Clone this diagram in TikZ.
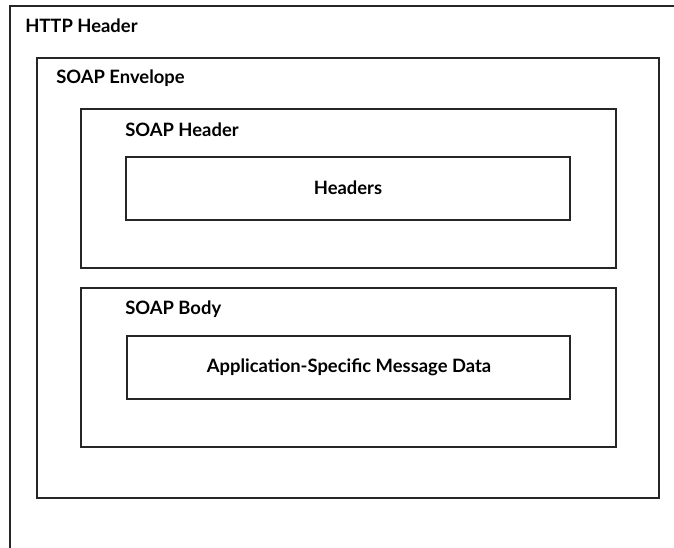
\documentclass[tikz,border=0pt]{standalone}
\usepackage{fontspec}
\setmainfont{Lato}
\usepackage{tikz}

\begin{document}
\begin{tikzpicture}[x=0.75pt,y=0.75pt,yscale=-1,xscale=1,
	lbl/.style={anchor=west,inner sep=0.75pt,font=\fontsize{13.8}{16}\selectfont\bfseries},
	ctr/.style={inner sep=0.75pt,font=\fontsize{13.8}{16}\selectfont\bfseries},
	frame/.style={line width=0.9pt,draw=black!85}]
	\useasboundingbox (0,0) rectangle (674,548);
	
	%Shape: Open frame (HTTP) [id:http]
	\draw [frame]   (10,548) -- (10,6) -- (674,6) ;
	%Shape: Rectangle (Envelope) [id:envelope]
	\draw [frame]   (37,58) rectangle (659,498) ;
	%Shape: Rectangle (SOAP Header) [id:soapheader]
	\draw [frame]   (81,109) rectangle (616,268) ;
	%Shape: Rectangle (Headers) [id:headers]
	\draw [frame]   (126,157) rectangle (570,220) ;
	%Shape: Rectangle (SOAP Body) [id:soapbody]
	\draw [frame]   (81,288) rectangle (616,447) ;
	%Shape: Rectangle (Data) [id:data]
	\draw [frame]   (127,336) rectangle (570,399) ;
	
	% Text Node
	\node [lbl] (httplbl) at (24,26) {HTTP Header};
	% Text Node
	\node [lbl] (envlbl) at (55,78) {SOAP Envelope};
	% Text Node
	\node [lbl] (hdrlbl) at (124,130) {SOAP Header};
	% Text Node
	\node [ctr] (hdrslbl) at (348,188) {Headers};
	% Text Node
	\node [lbl] (bodylbl) at (124,309) {SOAP Body};
	% Text Node
	\node [ctr] (datalbl) at (349,367) {Application-Specific Message Data};
	
\end{tikzpicture}
\end{document}
